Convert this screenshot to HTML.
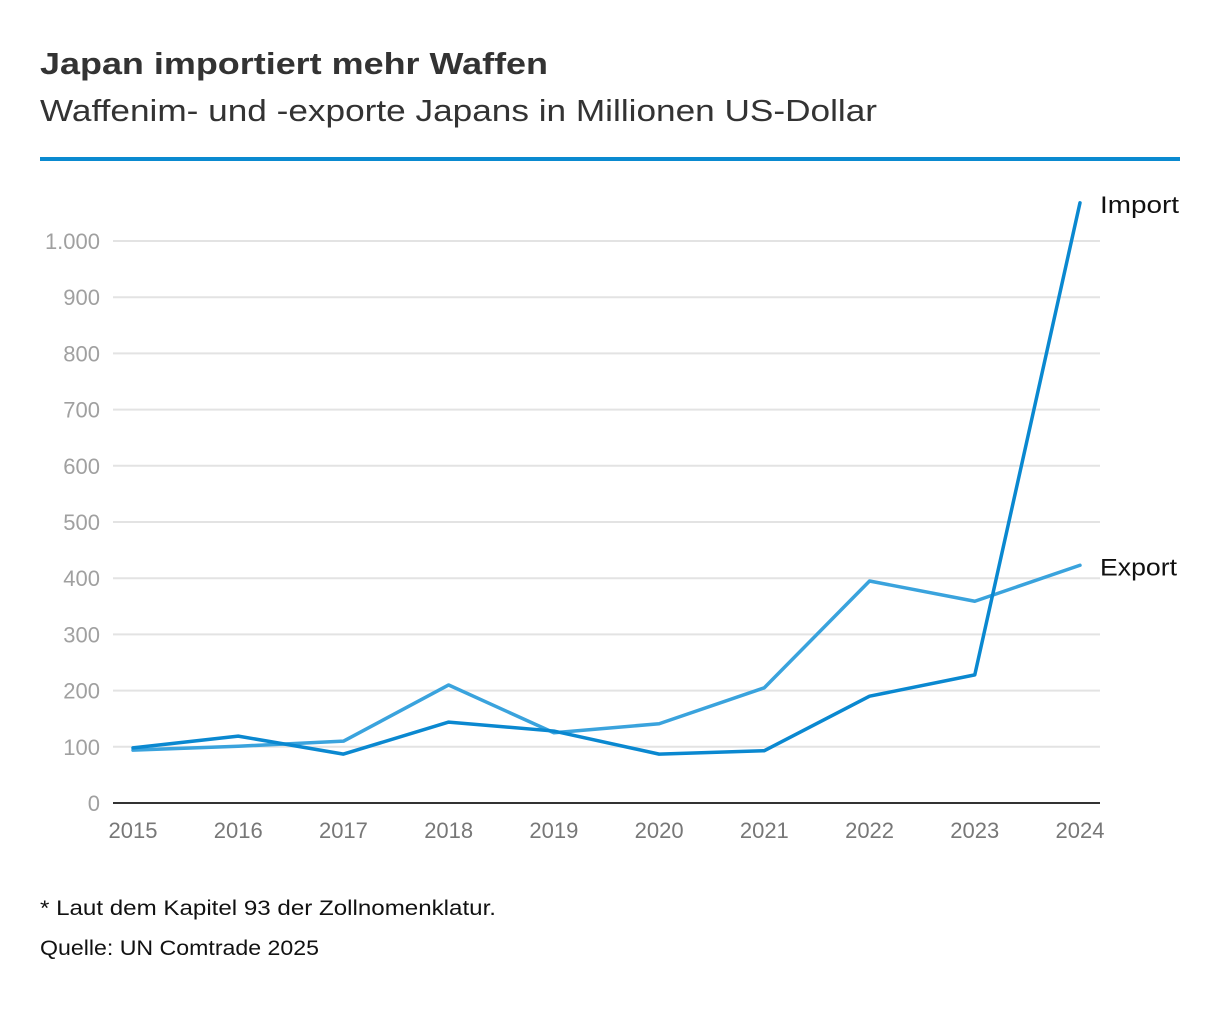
<!DOCTYPE html>
<html><head><meta charset="utf-8"><style>
body{margin:0;background:#fff;width:1220px;height:1004px;overflow:hidden;font-family:"Liberation Sans",sans-serif;}
</style></head><body>
<svg width="1220" height="1004">
<text x="40" y="74" font-size="31" font-weight="bold" fill="#333" textLength="508" lengthAdjust="spacingAndGlyphs">Japan importiert mehr Waffen</text>
<text x="40" y="121" font-size="31" fill="#333" textLength="837" lengthAdjust="spacingAndGlyphs">Waffenim- und -exporte Japans in Millionen US-Dollar</text>
<rect x="40" y="157" width="1140" height="4" fill="#0a8ad0"/>
<g id="grid"></g><g id="lines"></g>
<text x="40" y="915" font-size="21" fill="#111" textLength="456" lengthAdjust="spacingAndGlyphs">* Laut dem Kapitel 93 der Zollnomenklatur.</text>
<text x="40" y="955" font-size="21" fill="#111" textLength="279" lengthAdjust="spacingAndGlyphs">Quelle: UN Comtrade 2025</text>
</svg>
<script>
const years=[2015,2016,2017,2018,2019,2020,2021,2022,2023,2024];
const importVals=[98,119,87,144,128,87,93,190,228,1068];
const exportVals=[94,101,110,210,125,141,205,395,359,423];
const yTicks=[0,100,200,300,400,500,600,700,800,900,1000];
const yTickLabels=["0","100","200","300","400","500","600","700","800","900","1.000"];
const NS="http://www.w3.org/2000/svg";
const X=i=>133+i*(1080-133)/(years.length-1);
const Y=v=>803-v*0.562;
const g=document.getElementById('grid'),L=document.getElementById('lines');
function mk(t,a,p){const e=document.createElementNS(NS,t);for(const k in a)e.setAttribute(k,a[k]);p.appendChild(e);return e;}
yTicks.forEach((v,i)=>{
 if(v>0){const l=mk('line',{x1:113,x2:1100,y1:Y(v),y2:Y(v),stroke:'#e3e3e3','stroke-width':2},g);
 
 }
 const t=mk('text',{x:100,y:Y(v)+8,'text-anchor':'end','font-size':22,fill:'#a0a0a0'},g);t.textContent=yTickLabels[i];
 
 
});
const ax=mk('line',{x1:113,x2:1100,y1:803,y2:803,stroke:'#333','stroke-width':2},g);


years.forEach((y,i)=>{const t=mk('text',{x:X(i),y:838,'text-anchor':'middle','font-size':22,fill:'#777'},g);t.textContent=y;
 
 });
function line(vals,color,name,label,w){
 const p=mk('polyline',{points:vals.map((v,i)=>X(i)+','+Y(v)).join(' '),fill:'none',stroke:color,'stroke-width':3.5,'stroke-linejoin':'round','stroke-linecap':'round'},L);
 
 
 const n=vals.length-1;
 const t=mk('text',{x:X(n)+20,y:Y(vals[n])+10,'font-size':24,fill:'#111',textLength:w,lengthAdjust:'spacingAndGlyphs'},L);t.textContent=label;
 
 
}
line(exportVals,'#3aa3dd','export-line','Export',77);
line(importVals,'#0a88d0','import-line','Import',79);
</script>
</body></html>
